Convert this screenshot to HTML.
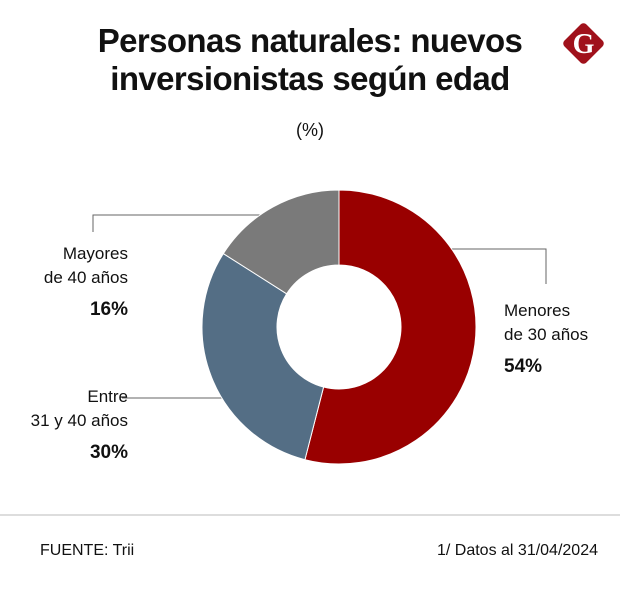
<!DOCTYPE html>
<html><head><meta charset="utf-8"><style>
body{margin:0;width:620px;height:591px;background:#fff;font-family:"Liberation Sans",sans-serif;position:relative;overflow:hidden;color:#111}
.t{position:absolute;left:0;width:620px;text-align:center;font-weight:bold;font-size:33px;line-height:38px;top:22px;letter-spacing:-0.6px}
.lab{position:absolute;font-size:17px;line-height:24px}
.pct{font-weight:bold;font-size:19px;display:inline-block;margin-top:8px}
</style></head><body>
<div class="t">Personas naturales: nuevos<br>inversionistas según edad</div>
<div style="position:absolute;left:0;width:620px;text-align:center;top:120px;font-size:18px">(%)</div>
<svg width="620" height="591" style="position:absolute;left:0;top:0">
<g><rect x="568" y="28" width="31" height="31" rx="4" fill="#a0111b" transform="rotate(45 583.5 43.5)"/><text x="583.5" y="53" text-anchor="middle" font-family="Liberation Serif" font-weight="bold" font-size="28" fill="#fff">G</text></g>
<g stroke="#666" stroke-width="1" fill="none">
<polyline points="300,215 93,215 93,232"/>
<polyline points="420,249 546,249 546,284"/>
<polyline points="240,398 122,398"/>
</g>
<g id="donut"></g>
<line x1="0" y1="515" x2="620" y2="515" stroke="#bbb"/>
</svg>
<div class="lab" style="right:492px;top:242px;text-align:right">Mayores<br>de 40 años<br><span class="pct" id="p2">16%</span></div>
<div class="lab" style="left:504px;top:299px">Menores<br>de 30 años<br><span class="pct" id="p0">54%</span></div>
<div class="lab" style="right:492px;top:385px;text-align:right">Entre<br>31 y 40 años<br><span class="pct" id="p1">30%</span></div>
<div class="lab" style="left:40px;top:539px;font-size:16px">FUENTE: Trii</div>
<div class="lab" style="right:22px;top:539px;font-size:16px">1/ Datos al 31/04/2024</div>
<script>
const categories=["Menores de 30 años","Entre 31 y 40 años","Mayores de 40 años"];
const values=[54,30,16];
const colors=["#990000","#546e85","#7a7a7a"];
const cx=339,cy=327,R=137,r=62;
const g=document.getElementById('donut');
const tot=values.reduce((a,b)=>a+b,0);
let a0=0;
function pt(a,rad){return [cx+rad*Math.sin(a),cy-rad*Math.cos(a)];}
values.forEach((v,i)=>{
 const a1=a0+v/tot*2*Math.PI,lg=(a1-a0)>Math.PI?1:0;
 const [x0,y0]=pt(a0,R),[x1,y1]=pt(a1,R),[x2,y2]=pt(a1,r),[x3,y3]=pt(a0,r);
 const p=document.createElementNS('http://www.w3.org/2000/svg','path');
 p.setAttribute('d',`M${x0},${y0}A${R},${R} 0 ${lg} 1 ${x1},${y1}L${x2},${y2}A${r},${r} 0 ${lg} 0 ${x3},${y3}Z`);
 p.setAttribute('fill',colors[i]);p.setAttribute('stroke','#fff');p.setAttribute('stroke-width','1');
 
 
 g.appendChild(p);
 document.getElementById('p'+i).textContent=v+'%';
 a0=a1;
});
</script>
</body></html>
